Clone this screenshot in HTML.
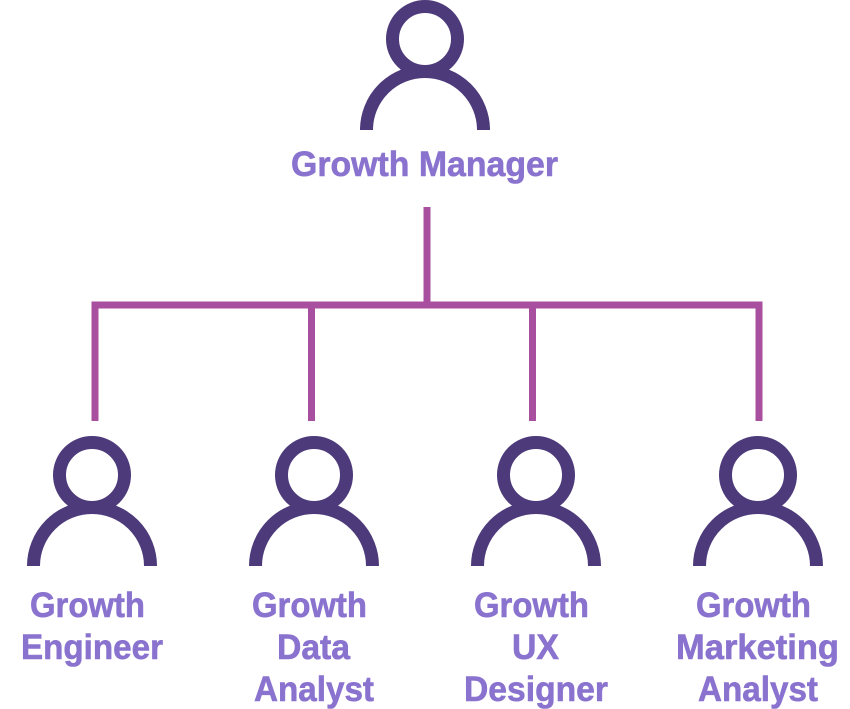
<!DOCTYPE html>
<html>
<head>
<meta charset="utf-8">
<style>
html,body{margin:0;padding:0;background:#fff;width:850px;height:709px;overflow:hidden}
svg{display:block}
text{font-family:"Liberation Sans",sans-serif;font-weight:700;font-size:35px;fill:#8A73CF;stroke:#8A73CF;stroke-width:.6px}
</style>
</head>
<body>
<svg width="850" height="709" viewBox="0 0 850 709" xmlns="http://www.w3.org/2000/svg">
<defs>
<g id="p" fill="none" stroke="#4D3A7A" stroke-width="13">
<circle cx="0" cy="-91" r="32.5"/>
<path d="M-58.500 0A58.500 58.500 0 0 1 58.500 0"/>
</g>
</defs>
<g fill="none" stroke="#A94F9F" stroke-width="7">
<path d="M427 207V305"/>
<path d="M95 421V305H759V421"/>
<path d="M311.500 305V421"/>
<path d="M532.500 305V421"/>
</g>
<use href="#p" x="425" y="130"/>
<use href="#p" x="92" y="566"/>
<use href="#p" x="314" y="566"/>
<use href="#p" x="536" y="566"/>
<use href="#p" x="758" y="566"/>
<text x="291" y="176" textLength="267" lengthAdjust="spacingAndGlyphs">Growth Manager</text>
<text x="30" y="617" textLength="115" lengthAdjust="spacingAndGlyphs">Growth</text>
<text x="21" y="659" textLength="142" lengthAdjust="spacingAndGlyphs">Engineer</text>
<text x="252" y="617" textLength="115" lengthAdjust="spacingAndGlyphs">Growth</text>
<text x="277" y="659" textLength="73" lengthAdjust="spacingAndGlyphs">Data</text>
<text x="254" y="701" textLength="120" lengthAdjust="spacingAndGlyphs">Analyst</text>
<text x="474" y="617" textLength="115" lengthAdjust="spacingAndGlyphs">Growth</text>
<text x="512" y="659" textLength="47" lengthAdjust="spacingAndGlyphs">UX</text>
<text x="464" y="701" textLength="144" lengthAdjust="spacingAndGlyphs">Designer</text>
<text x="696" y="617" textLength="115" lengthAdjust="spacingAndGlyphs">Growth</text>
<text x="676" y="659" textLength="163" lengthAdjust="spacingAndGlyphs">Marketing</text>
<text x="698" y="701" textLength="120" lengthAdjust="spacingAndGlyphs">Analyst</text>
</svg>
</body>
</html>
